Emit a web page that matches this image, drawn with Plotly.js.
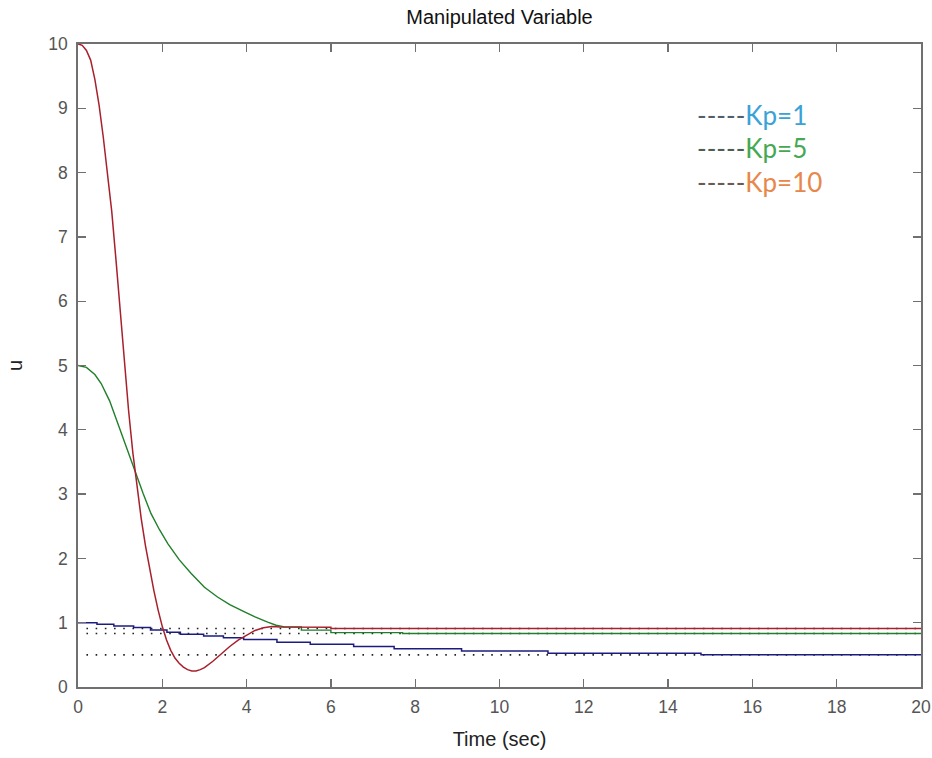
<!DOCTYPE html>
<html>
<head>
<meta charset="utf-8">
<script src="https://cdn.plot.ly/plotly-3.0.1.min.js"></script>
<style>
  html, body { margin: 0; padding: 0; background: #ffffff; }
  #chart { width: 932px; height: 758px; }
</style>
</head>
<body>
<div id="chart"></div>
<script>
// Controller output u(t) for three proportional gains (unit step setpoint)

// Kp = 10
const tKp10 = [0, 0.1, 0.2, 0.3, 0.4, 0.5, 0.6, 0.7, 0.8, 0.9, 1.0, 1.1, 1.2, 1.3, 1.4, 1.5, 1.6, 1.7, 1.8, 1.9,
               2.0, 2.1, 2.2, 2.3, 2.4, 2.5, 2.6, 2.7, 2.8, 2.9, 3.0, 3.2, 3.4, 3.6, 3.8, 4.0, 4.2, 4.4, 4.6, 4.8,
               6.0, 6.0, 20];
const uKp10 = [10, 9.98, 9.9, 9.75, 9.45, 9.05, 8.55, 8.0, 7.4, 6.65, 5.85, 5.05, 4.3, 3.65, 3.1, 2.62, 2.2, 1.83, 1.5, 1.2,
               0.94, 0.73, 0.57, 0.45, 0.37, 0.31, 0.27, 0.25, 0.25, 0.27, 0.3, 0.4, 0.52, 0.63, 0.73, 0.81, 0.88, 0.92, 0.94, 0.935,
               0.93, 0.909, 0.909];

// Kp = 5
const tKp5 = [0, 0.2, 0.4, 0.55, 0.75, 0.94, 1.15, 1.34, 1.55, 1.73, 1.93, 2.13, 2.4, 2.68, 3.0, 3.31, 3.6, 3.95, 4.2, 4.5,
              4.7, 4.9, 5.3, 5.3, 6.0, 6.0, 7.7, 7.7, 20];
const uKp5 = [5.0, 4.97, 4.86, 4.72, 4.45, 4.10, 3.72, 3.37, 3.0, 2.70, 2.45, 2.23, 1.98, 1.77, 1.55, 1.40, 1.28, 1.17, 1.09, 1.01,
              0.96, 0.935, 0.935, 0.885, 0.885, 0.845, 0.845, 0.833, 0.833];

// Kp = 1 (solver output, drawn as stairs)
const tKp1 = [0, 0.45, 0.85, 1.32, 1.72, 2.11, 2.43, 2.98, 3.45, 3.93, 4.72, 5.51, 6.54, 7.5, 9.1, 11.15, 14.78, 20];
const uKp1 = [1.0, 0.975, 0.95, 0.925, 0.885, 0.85, 0.82, 0.795, 0.765, 0.74, 0.695, 0.665, 0.63, 0.595, 0.56, 0.525, 0.5, 0.5];

// steady-state levels Kp/(1+Kp) for Kp = 10, 5, 1
const ssLevels = [0.909, 0.833, 0.5];
const ssSpan = [0.2, 20];

const legendLabels = ['Kp=1', 'Kp=5', 'Kp=10'];
const legendY = [8.90, 8.38, 7.85];

const xTicks = [0, 2, 4, 6, 8, 10, 12, 14, 16, 18, 20];
const yTicks = [0, 1, 2, 3, 4, 5, 6, 7, 8, 9, 10];

const traces = [];
ssLevels.forEach(v => {
  traces.push({
    x: ssSpan, y: [v, v], mode: 'lines', type: 'scatter', hoverinfo: 'skip',
    line: { color: '#222222', width: 1.6, dash: '1.6px,7.6px' }
  });
});
traces.push({ x: tKp1, y: uKp1, mode: 'lines', type: 'scatter', line: { color: '#1c1c80', width: 1.5, shape: 'hv' } });
traces.push({ x: tKp5, y: uKp5, mode: 'lines', type: 'scatter', line: { color: '#1f7f2a', width: 1.4 } });
traces.push({ x: tKp10, y: uKp10, mode: 'lines', type: 'scatter', line: { color: '#a8202c', width: 1.5 } });

const labelColors = ['#3aa2d6', '#45a852', '#e8874a'];
const dashColors = ['#4f5f6c', '#4c5e50', '#6a5a52'];
const annotations = legendLabels.map((lab, i) => ({
  xref: 'x', yref: 'y', x: 14.64, y: legendY[i], xanchor: 'left', yanchor: 'middle',
  showarrow: false,
  text: '<span style="color:' + dashColors[i] + '">-----</span>' + lab,
  font: { family: 'Lato, "Open Sans", sans-serif', size: 26, color: labelColors[i] }
}));

const textFont = '"Liberation Sans", Arial, sans-serif';

const axisCommon = {
  showline: true, linecolor: '#707070', linewidth: 1.7, mirror: 'ticks',
  ticks: 'inside', ticklen: 8, tickwidth: 1.3, tickcolor: '#707070',
  showgrid: false, zeroline: false, automargin: false,
  tickfont: { family: textFont, size: 17.5, color: '#555555' }
};

const layout = {
  width: 932, height: 758,
  paper_bgcolor: '#ffffff', plot_bgcolor: '#ffffff',
  margin: { l: 78, r: 11, t: 44, b: 71 },
  showlegend: false,
  title: {
    text: 'Manipulated Variable',
    font: { family: textFont, size: 20, color: '#111111' },
    xref: 'paper', x: 0.5, xanchor: 'center',
    yref: 'container', y: 0.977, yanchor: 'middle'
  },
  xaxis: Object.assign({}, axisCommon, {
    range: [0, 20], tickvals: xTicks, ticktext: xTicks.map(String), ticklabelstandoff: 3,
    title: { text: 'Time (sec)', standoff: 16, font: { family: textFont, size: 20, color: '#222222' } }
  }),
  yaxis: Object.assign({}, axisCommon, {
    range: [0, 10], tickvals: yTicks, ticktext: yTicks.map(String), ticklabelstandoff: 5,
    title: { text: 'u', standoff: 20, font: { family: textFont, size: 20, color: '#222222' } }
  }),
  annotations: annotations
};

Plotly.newPlot('chart', traces, layout, { displayModeBar: false, staticPlot: true });
</script>
</body>
</html>
